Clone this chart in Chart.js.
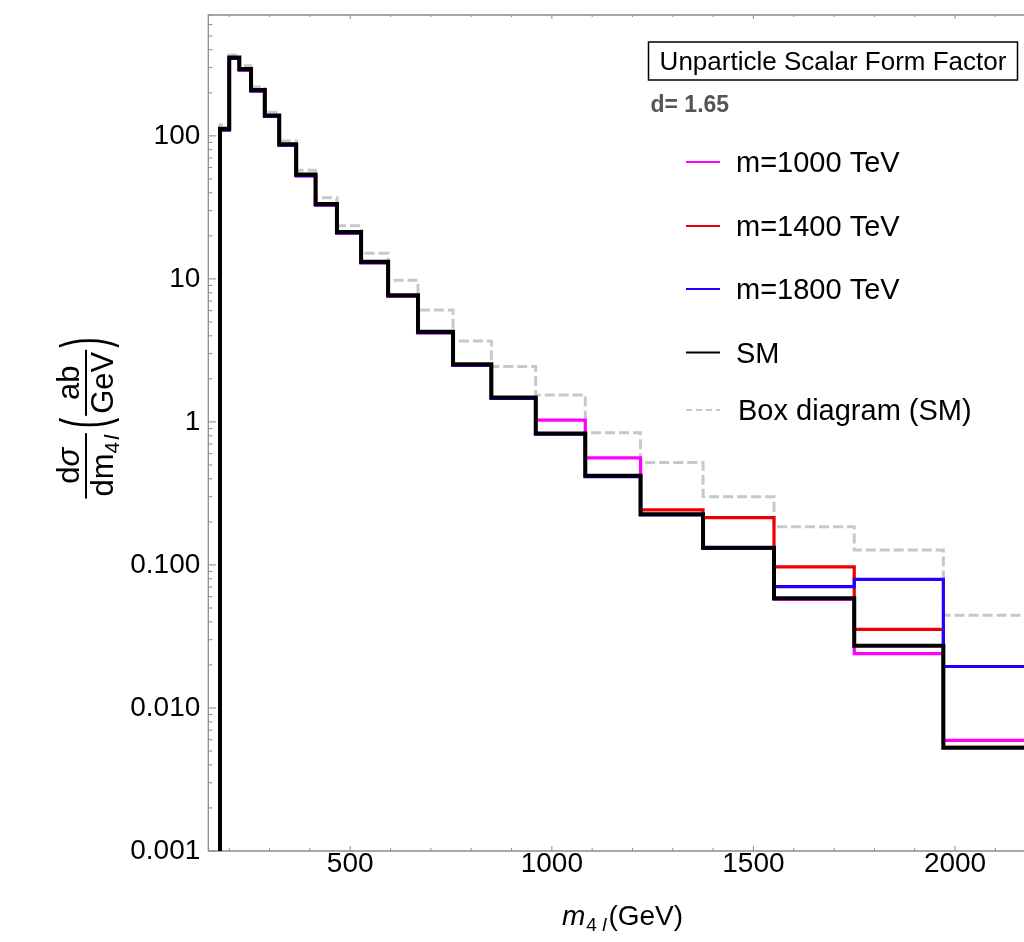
<!DOCTYPE html>
<html><head><meta charset="utf-8">
<script src="https://cdn.jsdelivr.net/npm/chart.js@4.4.1/dist/chart.umd.min.js"></script>
<style>html,body{margin:0;padding:0;background:#fff;overflow:hidden}</style>
</head><body>
<canvas id="c" width="1024" height="942"></canvas>
<script>
// ---- data ----
const binEdges = [177, 200, 225, 254, 288, 324, 366, 414, 467, 527, 594, 668, 755, 850, 960, 1083, 1220, 1375, 1551, 1750, 1971, 2222];
const smValues    = [112, 353, 293, 209, 139, 87.5, 53.6, 33.4, 21.3, 13.2, 7.7, 4.27, 2.53, 1.48, 0.83, 0.42, 0.226, 0.132, 0.0585, 0.0272, 0.00528];
const m1000Values = [110, 348, 289, 206, 137, 86.2, 52.8, 32.9, 21.0, 13.0, 7.6, 4.21, 2.49, 1.46, 1.03, 0.56, 0.226, 0.131, 0.0575, 0.024, 0.00594];
const m1400Values = [110, 348, 289, 206, 137, 86.2, 52.8, 32.9, 21.0, 13.0, 7.6, 4.21, 2.49, 1.46, 0.83, 0.42, 0.243, 0.214, 0.097, 0.0355, 0.0053];
const m1800Values = [110, 348, 289, 206, 137, 86.2, 52.8, 32.9, 21.0, 13.0, 7.6, 4.21, 2.49, 1.46, 0.82, 0.415, 0.224, 0.131, 0.0705, 0.0794, 0.0195];
const boxValues   = [119, 368, 309, 220, 146, 92, 57.5, 37, 23.5, 15.1, 9.8, 6.07, 3.68, 2.44, 1.54, 0.84, 0.52, 0.30, 0.185, 0.127, 0.0445];
const seriesLabels = ['m=1000 TeV', 'm=1400 TeV', 'm=1800 TeV', 'SM', 'Box diagram (SM)'];
const xTickLabels = [500, 1000, 1500, 2000];
const yTickLabels = ['0.001', '0.010', '0.100', '1', '10', '100'];
const boxTitle = 'Unparticle Scalar Form Factor';
const paramText = 'd= 1.65';

// histogram -> stepped points (value held to the right of each edge)
function toSteps(vals) {
  const pts = [{x: binEdges[0], y: 1e-6}];
  vals.forEach((v, i) => pts.push({x: binEdges[i], y: v}));
  pts.push({x: binEdges[vals.length], y: vals[vals.length - 1]});
  return pts;
}

const FONT = "'Liberation Sans', Arial, sans-serif";

function ds(label, vals, color, width, order, dash) {
  return {
    label, data: toSteps(vals), borderColor: color, backgroundColor: color,
    borderWidth: width, borderDash: dash || [], stepped: 'before', pointRadius: 0,
    fill: false, tension: 0, order, clip: 0, borderCapStyle: 'butt', borderJoinStyle: 'miter'
  };
}

const decor = {
  id: 'decor',
  beforeDatasetsDraw(chart) {
    const ctx = chart.ctx, a = chart.chartArea, xs = chart.scales.x, ys = chart.scales.y;
    ctx.save();
    ctx.strokeStyle = '#8c8c8c';
    ctx.lineWidth = 1.3;
    ctx.beginPath();
    ctx.moveTo(a.left, a.bottom); ctx.lineTo(a.left, a.top); ctx.lineTo(a.right, a.top);
    ctx.moveTo(a.left, a.bottom); ctx.lineTo(a.right, a.bottom);
    ctx.stroke();
    ctx.lineWidth = 1;
    ctx.beginPath();
    xs.ticks.forEach(t => {
      const px = xs.getPixelForValue(t.value);
      const major = xTickLabels.includes(t.value);
      ctx.moveTo(px, a.bottom); ctx.lineTo(px, a.bottom - (major ? 5 : 3));
      ctx.moveTo(px, a.top); ctx.lineTo(px, a.top + (major ? 4 : 2));
    });
    ys.ticks.forEach(t => {
      const py = ys.getPixelForValue(t.value);
      const e = Math.round(Math.log10(t.value));
      const major = Math.abs(t.value / Math.pow(10, e) - 1) < 1e-6;
      ctx.moveTo(a.left, py); ctx.lineTo(a.left + (major ? 8 : 4), py);
    });
    ctx.stroke();
    ctx.restore();
  },
  afterDraw(chart) {
    const ctx = chart.ctx;
    ctx.save();
    ctx.fillStyle = '#000';
    // ---- x axis title: m_{4 l}(GeV)
    ctx.textBaseline = 'alphabetic';
    ctx.textAlign = 'left';
    let x = 562, base = 925;
    ctx.font = 'italic 28px ' + FONT; ctx.fillText('m', x, base); x += ctx.measureText('m').width + 1;
    ctx.font = '19px ' + FONT; ctx.fillText('4', x, base + 6); x += ctx.measureText('4 ').width;
    ctx.font = 'italic 19px ' + FONT; ctx.fillText('l', x, base + 6); x += ctx.measureText('l').width + 2;
    ctx.font = '28px ' + FONT; ctx.fillText('(GeV)', x, base);

    // ---- y axis title (rotated): dσ/dm_{4l} (ab/GeV)
    ctx.save();
    ctx.translate(86, 418);
    ctx.rotate(-Math.PI / 2);
    const F = 31, S = 21;
    ctx.font = F + 'px ' + FONT;
    const wd = ctx.measureText('d').width;
    ctx.font = 'italic ' + F + 'px ' + FONT;
    const wsig = ctx.measureText('σ').width;
    ctx.font = F + 'px ' + FONT;
    const wdm = ctx.measureText('dm').width;
    ctx.font = S + 'px ' + FONT;
    const w4 = ctx.measureText('4').width;
    ctx.font = 'italic ' + S + 'px ' + FONT;
    const wl = ctx.measureText('l').width;
    const wDen1 = wdm + w4 + wl + 2;
    const wNum1 = wd + wsig;
    const w1 = Math.max(wDen1, wNum1) + 4;
    ctx.font = F + 'px ' + FONT;
    const wab = ctx.measureText('ab').width, wgev = ctx.measureText('GeV').width;
    const w2 = Math.max(wab, wgev) + 4;
    const wp = ctx.measureText('(').width;
    const gap = 5;
    const total = w1 + gap + wp + 2 + w2 + 2 + wp;
    let u = -total / 2;
    const numBase = -7, denBase = 27;
    // fraction 1
    ctx.fillRect(u, -1, w1, 2);
    let un = u + (w1 - wNum1) / 2;
    ctx.font = F + 'px ' + FONT; ctx.fillText('d', un, numBase);
    ctx.font = 'italic ' + F + 'px ' + FONT; ctx.fillText('σ', un + wd, numBase);
    let ud = u + (w1 - wDen1) / 2;
    ctx.font = F + 'px ' + FONT; ctx.fillText('dm', ud, denBase); ud += wdm;
    ctx.font = S + 'px ' + FONT; ctx.fillText('4', ud, denBase + 6); ud += w4 + 2;
    ctx.font = 'italic ' + S + 'px ' + FONT; ctx.fillText('l', ud, denBase + 6);
    u += w1 + gap;
    // parens + fraction 2
    ctx.font = F + 'px ' + FONT;
    const paren = (ch, uu) => {
      ctx.save(); ctx.translate(uu, 2); ctx.scale(1, 2.1);
      ctx.textBaseline = 'middle'; ctx.fillText(ch, 0, 0); ctx.restore();
    };
    paren('(', u); u += wp + 2;
    ctx.fillRect(u, -1, w2, 2);
    ctx.fillText('ab', u + (w2 - wab) / 2, numBase);
    ctx.fillText('GeV', u + (w2 - wgev) / 2, denBase);
    u += w2 + 2;
    paren(')', u);
    ctx.restore();

    // ---- legend block
    ctx.lineWidth = 1.5; ctx.strokeStyle = '#000';
    ctx.strokeRect(648.5, 42, 369, 38);
    ctx.font = '26px ' + FONT; ctx.textAlign = 'center'; ctx.fillStyle = '#000';
    ctx.fillText(boxTitle, 833, 69.5);
    ctx.textAlign = 'left';
    ctx.font = 'bold 23px ' + FONT; ctx.fillStyle = '#555';
    ctx.fillText(paramText, 650.5, 112);
    const itemY = [162, 226, 289, 352.5, 410];
    const textX = [736, 736, 736, 736, 738];
    chart.data.datasets.forEach((d, i) => {
      const y = itemY[i];
      ctx.save();
      ctx.strokeStyle = d.borderColor; ctx.lineWidth = 2.2;
      ctx.setLineDash(d.borderDash.length ? [6, 4] : []);
      ctx.beginPath(); ctx.moveTo(686, y); ctx.lineTo(720, y); ctx.stroke();
      ctx.restore();
      ctx.font = '29px ' + FONT; ctx.fillStyle = '#000';
      ctx.fillText(d.label, textX[i], y + 10.3);
    });
    ctx.restore();
  }
};

new Chart(document.getElementById('c'), {
  type: 'line',
  plugins: [decor],
  data: {
    datasets: [
      ds(seriesLabels[0], m1000Values, '#ff00ff', 3.2, 4),
      ds(seriesLabels[1], m1400Values, '#ee0000', 3.2, 3),
      ds(seriesLabels[2], m1800Values, '#2200ff', 3.2, 2),
      ds(seriesLabels[3], smValues, '#000000', 4, 1),
      ds(seriesLabels[4], boxValues, '#c8c8c8', 3, 5, [10, 4])
    ]
  },
  options: {
    responsive: false, animation: false, devicePixelRatio: 1,
    layout: {padding: {left: 0, right: 0, top: 15, bottom: 0}},
    plugins: {legend: {display: false}, tooltip: {enabled: false}, title: {display: false}},
    events: [],
    scales: {
      x: {
        type: 'linear', min: 148, max: 2171,
        grid: {display: false, drawTicks: false}, border: {display: false},
        afterBuildTicks(scale) {
          const t = [];
          for (let v = 200; v <= 2100; v += 100) t.push({value: v});
          scale.ticks = t;
        },
        ticks: {
          autoSkip: false, maxRotation: 0, padding: -4, color: '#000',
          font: {family: FONT, size: 28},
          callback: v => xTickLabels.includes(v) ? String(v) : ''
        },
        afterFit(scale) { scale.height = 91; scale.paddingLeft = 0; scale.paddingRight = 0; }
      },
      y: {
        type: 'logarithmic', min: 0.001, max: 700,
        grid: {display: false, drawTicks: false}, border: {display: false},
        afterBuildTicks(scale) {
          const t = [];
          for (let e = -3; e <= 2; e++) for (let m = 1; m <= 9; m++) {
            const v = +(m * Math.pow(10, e)).toPrecision(6);
            if (v <= 700) t.push({value: v});
          }
          scale.ticks = t;
        },
        ticks: {
          autoSkip: false, padding: 8, color: '#000',
          font: {family: FONT, size: 28},
          callback: v => {
            const e = Math.round(Math.log10(v));
            if (Math.abs(v / Math.pow(10, e) - 1) > 1e-6) return '';
            return yTickLabels[e + 3];
          }
        },
        afterFit(scale) { scale.width = 208.3; scale.paddingTop = 0; scale.paddingBottom = 0; }
      }
    }
  }
});
</script>
</body></html>
